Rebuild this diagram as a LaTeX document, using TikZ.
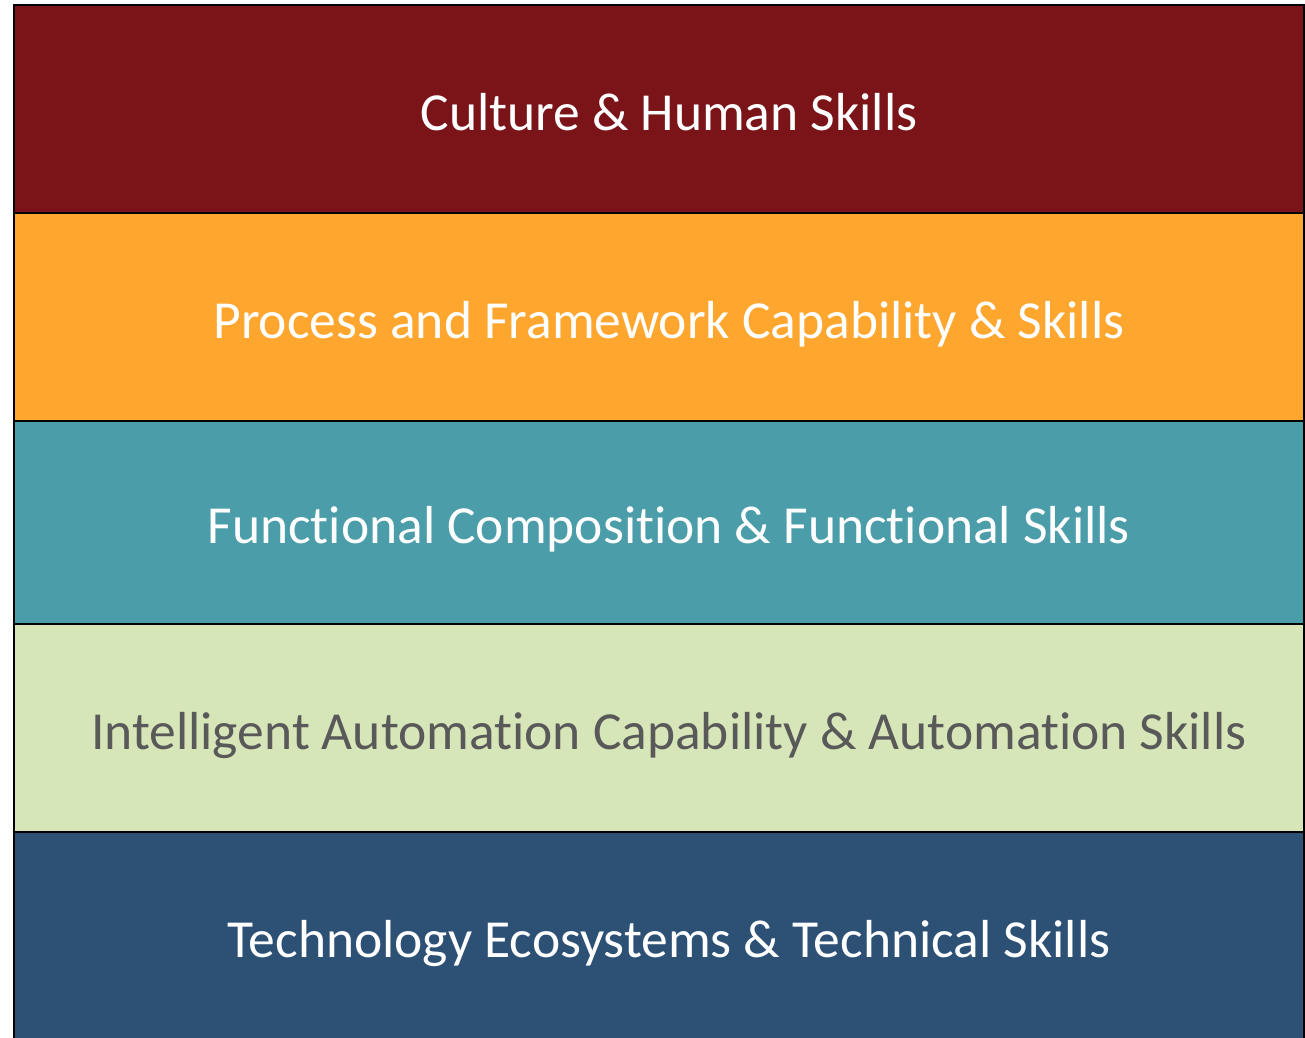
\documentclass[tikz,border=0pt]{standalone}
\usepackage{fontspec}
\setmainfont[Ligatures=NoCommon]{Carlito}
\usepackage{tikz}

\definecolor{culture}{HTML}{7B1419}
\definecolor{process}{HTML}{FFA62F}
\definecolor{functional}{HTML}{4B9DA9}
\definecolor{automation}{HTML}{D7E6B9}
\definecolor{technology}{HTML}{2D5075}
\definecolor{greytext}{HTML}{595959}

\begin{document}
\begin{tikzpicture}[
  band/.style={draw=black,line width=1.1pt,rectangle,minimum width=25.8cm,inner sep=0pt},
  bandtext/.style={inner sep=0pt,text height=24.1pt,text depth=0pt,
    font=\fontsize{30.45}{36}\selectfont,text=white}]

\useasboundingbox (0,0) rectangle (26.1,-20.76);
\clip (0,0) rectangle (26.1,-20.76);

% the five layers, top to bottom
\node[band,fill=culture,minimum height=4.16cm] (culture) at (13.18,-2.18) {};
\node[band,fill=process,minimum height=4.16cm] (process) at (13.18,-6.34) {};
\node[band,fill=functional,minimum height=4.06cm] (functional) at (13.18,-10.45) {};
\node[band,fill=automation,minimum height=4.16cm] (automation) at (13.18,-14.56) {};
\node[band,fill=technology,minimum height=4.3cm] (technology) at (13.18,-18.79) {};

% labels, a bit right of centre
\node[bandtext] (culturetext) at ([xshift=0.2cm]culture.center) {Culture \& Human Skills};
\node[bandtext] (processtext) at ([xshift=0.2cm]process.center) {Process and Framework Capability \& Skills};
\node[bandtext] (functionaltext) at ([xshift=0.2cm]functional.center) {Functional Composition \& Functional Skills};
\node[bandtext,text=greytext] (automationtext) at ([xshift=0.2cm]automation.center) {Intelligent Automation Capability \& Automation Skills};
\node[bandtext] (technologytext) at ([xshift=0.2cm,yshift=0.07cm]technology.center) {Technology Ecosystems \& Technical Skills};

\end{tikzpicture}
\end{document}
